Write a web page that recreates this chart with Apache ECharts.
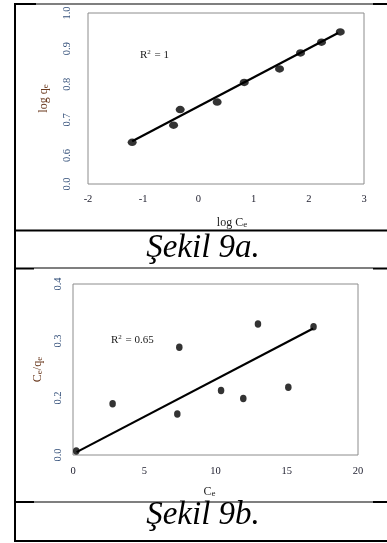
<!DOCTYPE html>
<html><head><meta charset="utf-8">
<script src="https://cdn.jsdelivr.net/npm/echarts@6/dist/echarts.min.js"></script>
<style>html,body{margin:0;padding:0;background:#fff}#c{width:387px;height:543px}</style>
</head><body><div id="c"></div>
<script>
// ---- Şekil 9a (log qe vs log Ce) ----
const logCe = [-1.2, -0.45, -0.33, 0.34, 0.83, 1.47, 1.85, 2.23, 2.57];
const logQe = [0.637, 0.685, 0.729, 0.750, 0.805, 0.843, 0.888, 0.918, 0.947];
const fitAx = [-1.2, 2.53];
const fitAy = [0.640, 0.944];
const yTicksA = [0.52, 0.6, 0.7, 0.8, 0.9, 1.0];
const yTickLabelsA = ['0.0', '0.6', '0.7', '0.8', '0.9', '1.0'];
// ---- Şekil 9b (Ce/qe vs Ce) ----
const Ce = [0.23, 2.78, 7.32, 7.46, 10.39, 11.95, 12.98, 15.11, 16.88];
const CeQe = [0.107, 0.190, 0.172, 0.289, 0.213, 0.199, 0.330, 0.219, 0.325];
const fitBx = [0.25, 16.85];
const fitBy = [0.105, 0.322];
const yTicksB = [0.1, 0.2, 0.3, 0.4];
const yTickLabelsB = ['0.0', '0.2', '0.3', '0.4'];
const captionA = 'Şekil 9a.';
const captionB = 'Şekil 9b.';
const r2A = 'R{sup|2} = 1';
const r2B = 'R{sup|2} = 0.65';

const SERIF = 'Liberation Serif, Times New Roman, serif';
const yLabCol = '#34507a', xLabCol = '#1c1c2c', yNameCol = '#6b3a1f', xNameCol = '#222';
const sub = { fontSize: 9, fontFamily: SERIF, padding: [4, 0, 0, 0] };
const zip = (a, b) => a.map((v, i) => [v, b[i]]);
const lookup = (ticks, labels) => v => {
  const i = ticks.findIndex(t => Math.abs(t - v) < 1e-6);
  return i < 0 ? '' : labels[i];
};

const chart = echarts.init(document.getElementById('c'), null, { renderer: 'canvas' });

function rect(x, y, w, h) {
  return { type: 'rect', shape: { x, y, width: w, height: h }, style: { fill: '#000' }, silent: true };
}

const option = {
  animation: false,
  backgroundColor: '#fff',
  grid: [
    { left: 88, top: 13, width: 276, height: 171, show: true, borderColor: '#8c8c8c', borderWidth: 1, containLabel: false },
    { left: 73, top: 284, width: 285, height: 171, show: true, borderColor: '#8c8c8c', borderWidth: 1, containLabel: false }
  ],
  xAxis: [
    { gridIndex: 0, type: 'value', min: -2, max: 3, interval: 1,
      axisLine: { show: false }, axisTick: { show: false }, splitLine: { show: false },
      axisLabel: { margin: 10, fontFamily: SERIF, fontSize: 10.5, color: xLabCol },
      name: 'log C{s|e}', nameLocation: 'middle', nameGap: 32,
      nameTextStyle: { fontFamily: SERIF, fontSize: 12, color: xNameCol, padding: [0, 0, 0, 12], rich: { s: sub } } },
    { gridIndex: 1, type: 'value', min: 0, max: 20, interval: 5,
      axisLine: { show: false }, axisTick: { show: false }, splitLine: { show: false },
      axisLabel: { margin: 11, fontFamily: SERIF, fontSize: 10.5, color: xLabCol },
      name: 'C{s|e}', nameLocation: 'middle', nameGap: 30,
      nameTextStyle: { fontFamily: SERIF, fontSize: 12, color: xNameCol, padding: [0, 12, 0, 0], rich: { s: sub } } }
  ],
  yAxis: [
    { gridIndex: 0, type: 'value', min: 0.52, max: 1.0,
      axisLine: { show: false }, axisTick: { show: false }, splitLine: { show: false },
      axisLabel: { customValues: yTicksA, formatter: lookup(yTicksA, yTickLabelsA), rotate: 90, margin: 15,
        fontFamily: SERIF, fontSize: 10.5, color: yLabCol },
      name: 'log q{s|e}', nameLocation: 'middle', nameGap: 38, nameRotate: 90,
      nameTextStyle: { fontFamily: SERIF, fontSize: 12, color: yNameCol, rich: { s: sub } } },
    { gridIndex: 1, type: 'value', min: 0.1, max: 0.4,
      axisLine: { show: false }, axisTick: { show: false }, splitLine: { show: false },
      axisLabel: { customValues: yTicksB, formatter: lookup(yTicksB, yTickLabelsB), rotate: 90, margin: 9,
        fontFamily: SERIF, fontSize: 10.5, color: yLabCol },
      name: 'C{s|e}/q{s|e}', nameLocation: 'middle', nameGap: 29, nameRotate: 90,
      nameTextStyle: { fontFamily: SERIF, fontSize: 12, color: yNameCol, rich: { s: sub } } }
  ],
  series: [
    { type: 'line', xAxisIndex: 0, yAxisIndex: 0, data: zip(fitAx, fitAy), showSymbol: false,
      lineStyle: { color: '#000', width: 2.2 }, z: 2 },
    { type: 'scatter', xAxisIndex: 0, yAxisIndex: 0, data: zip(logCe, logQe), symbol: 'circle',
      symbolSize: [9, 7.5], itemStyle: { color: '#000' }, z: 3 },
    { type: 'line', xAxisIndex: 1, yAxisIndex: 1, data: zip(fitBx, fitBy), showSymbol: false,
      lineStyle: { color: '#000', width: 2.2 }, z: 2 },
    { type: 'scatter', xAxisIndex: 1, yAxisIndex: 1, data: zip(Ce, CeQe), symbol: 'circle',
      symbolSize: [6.5, 7.5], itemStyle: { color: '#000' }, z: 3 }
  ],
  graphic: [
    // table frame
    rect(14, 3, 2, 539),
    rect(14, 3, 22, 2), rect(36, 3.5, 337, 1), rect(373, 3, 14, 2),
    rect(14, 229.5, 373, 2),
    rect(14, 267.5, 20, 2), rect(34, 267.5, 339, 1), rect(373, 267.5, 14, 2),
    rect(14, 501, 20, 2), rect(34, 501.5, 339, 1), rect(373, 501, 14, 2),
    rect(14, 540, 373, 2),
    // captions
    { type: 'text', x: 203, y: 248, silent: true,
      style: { text: captionA, fontFamily: SERIF, fontStyle: 'italic', fontSize: 33, fill: '#000', align: 'center', verticalAlign: 'middle' } },
    { type: 'text', x: 203, y: 515, silent: true,
      style: { text: captionB, fontFamily: SERIF, fontStyle: 'italic', fontSize: 33, fill: '#000', align: 'center', verticalAlign: 'middle' } },
    // R² annotations
    { type: 'text', x: 140, y: 55, silent: true,
      style: { text: r2A, fontFamily: SERIF, fontSize: 11, fill: '#1a1a1a', align: 'left', verticalAlign: 'middle',
        rich: { sup: { fontSize: 7, fontFamily: SERIF, padding: [0, 1, 5, 0] } } } },
    { type: 'text', x: 111, y: 340, silent: true,
      style: { text: r2B, fontFamily: SERIF, fontSize: 11, fill: '#1a1a1a', align: 'left', verticalAlign: 'middle',
        rich: { sup: { fontSize: 7, fontFamily: SERIF, padding: [0, 1, 5, 0] } } } }
  ]
};
chart.setOption(option);
</script>
</body></html>
